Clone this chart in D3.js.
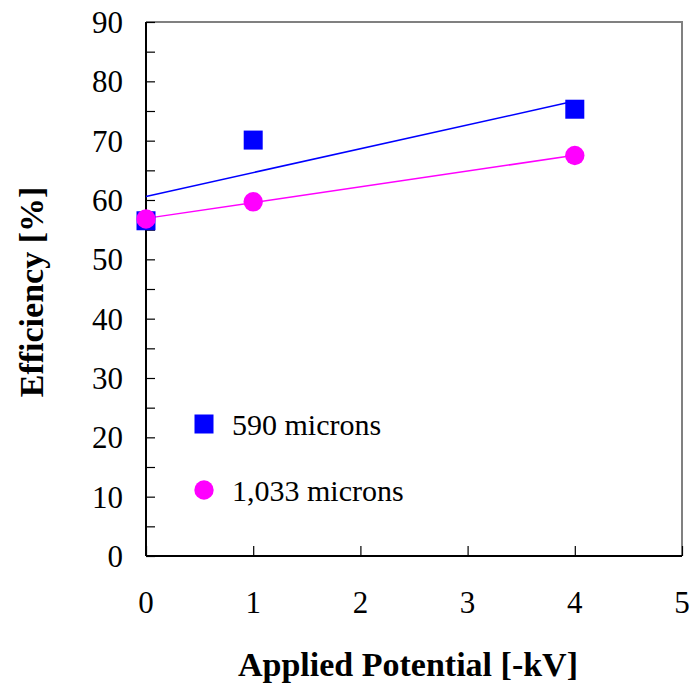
<!DOCTYPE html>
<html lang="en">
  <head>
    <meta charset="UTF-8">
    <title>Efficiency vs Applied Potential</title>
    <style>
      html, body {
        margin: 0;
        padding: 0;
        background: #fff;
      }

      text {
        font-family: "Liberation Serif", "Times New Roman", serif;
        fill: #000;
      }

      .tick-label {
        font-size: 31px;
      }

      .legend text {
        font-size: 30px;
      }

      .axis-title {
        font-size: 34px;
        font-weight: bold;
      }
    </style>
  </head>
  <body>
    <svg width="693" height="688"></svg>
    <script src="https://cdn.jsdelivr.net/npm/d3@7"></script>
    <script>

      // data
      const potential = [0, 1, 4]
      const eff590 = [56.5, 70.1, 75.3]
      const eff1033 = [56.8, 59.7, 67.5]
      const seriesNames = ['590 microns', '1,033 microns']
      const xTicks = [0, 1, 2, 3, 4, 5]
      const yTicks = [0, 10, 20, 30, 40, 50, 60, 70, 80, 90]

      const svg = d3.select('svg'),
        plotL = 146, plotR = 682, plotT = 22, plotB = 556

      const x = d3.scaleLinear().domain([0, 5]).range([plotL, plotR])
      const y = d3.scaleLinear().domain([0, 90]).range([plotB, plotT])

      // least squares line through a series
      function fit (xs, ys) {
        const mx = d3.mean(xs), my = d3.mean(ys)
        let sxy = 0, sxx = 0
        xs.forEach(function (v, i) {
          sxy += (v - mx) * (ys[i] - my)
          sxx += (v - mx) * (v - mx)
        })
        const b = sxy / sxx
        return { a: my - b * mx, b: b }
      }

      // frame: grey top/right, black left/bottom
      svg.append('path')
        .attr('d', 'M' + plotL + ',' + plotT + 'H' + plotR + 'V' + plotB)
        .attr('fill', 'none')
        .attr('stroke', '#808080')
        .attr('stroke-width', 2)

      // y axis, ticks inward, minor every 5
      const yAxis = d3.axisRight(y)
        .tickValues(d3.range(0, 91, 5))
        .tickSize(9)
        .tickFormat('')
      svg.append('g')
        .attr('transform', 'translate(' + plotL + ',0)')
        .call(yAxis)
        .call(function (g) {
          g.select('.domain').attr('stroke-width', 2).attr('d', 'M0,' + plotT + 'V' + plotB)
          g.selectAll('.tick line').attr('stroke-width', 1.2)
        })

      // x axis, ticks inward
      const xAxis = d3.axisTop(x)
        .tickValues(xTicks)
        .tickSize(10)
        .tickFormat('')
      svg.append('g')
        .attr('transform', 'translate(0,' + plotB + ')')
        .call(xAxis)
        .call(function (g) {
          g.select('.domain').attr('stroke-width', 2).attr('d', 'M' + plotL + ',0H' + plotR)
          g.selectAll('.tick line').attr('stroke-width', 1.2)
        })

      // tick labels
      svg.selectAll('.ylab')
        .data(yTicks)
        .enter().append('text')
        .attr('class', 'tick-label')
        .attr('x', plotL - 23)
        .attr('y', function (d) { return y(d) })
        .attr('dy', '0.35em')
        .attr('text-anchor', 'end')
        .text(function (d) { return d })

      svg.selectAll('.xlab')
        .data(xTicks)
        .enter().append('text')
        .attr('class', 'tick-label')
        .attr('x', function (d) { return x(d) })
        .attr('y', 613)
        .attr('text-anchor', 'middle')
        .text(function (d) { return d })

      // axis titles
      svg.append('text')
        .attr('class', 'axis-title')
        .attr('x', 408)
        .attr('y', 676)
        .attr('text-anchor', 'middle')
        .text('Applied Potential [-kV]')

      svg.append('text')
        .attr('class', 'axis-title')
        .attr('transform', 'translate(43,292) rotate(-90)')
        .attr('text-anchor', 'middle')
        .text('Efficiency [%]')

      // trend lines
      const series = [
        { name: seriesNames[0], ys: eff590, color: '#0000ff', shape: 'square' },
        { name: seriesNames[1], ys: eff1033, color: '#ff00ff', shape: 'circle' }
      ]

      series.forEach(function (s) {
        const f = fit(potential, s.ys)
        const x0 = d3.min(potential), x1 = d3.max(potential)
        svg.append('line')
          .attr('x1', x(x0)).attr('y1', y(f.a + f.b * x0))
          .attr('x2', x(x1)).attr('y2', y(f.a + f.b * x1))
          .attr('stroke', s.color)
          .attr('stroke-width', 1.5)
      })

      // markers
      function marker (sel, shape, color) {
        if (shape === 'square') {
          sel.append('rect')
            .attr('x', -9.5).attr('y', -9.5)
            .attr('width', 19).attr('height', 19)
            .attr('fill', color)
        } else {
          sel.append('circle')
            .attr('r', 9.7)
            .attr('fill', color)
        }
      }

      series.forEach(function (s) {
        svg.selectAll(null)
          .data(potential)
          .enter().append('g')
          .attr('transform', function (d, i) {
            return 'translate(' + x(d) + ',' + y(s.ys[i]) + ')'
          })
          .each(function () { marker(d3.select(this), s.shape, s.color) })
      })

      // legend
      const legend = svg.selectAll('.legend')
        .data(series)
        .enter().append('g')
        .attr('class', 'legend')
        .attr('transform', function (d, i) { return 'translate(204,' + (424 + i * 66) + ')' })

      legend.each(function (d) { marker(d3.select(this), d.shape, d.color) })

      legend.append('text')
        .attr('x', 28)
        .attr('dy', '0.35em')
        .text(function (d) { return d.name })

    </script>
  </body>
</html>
